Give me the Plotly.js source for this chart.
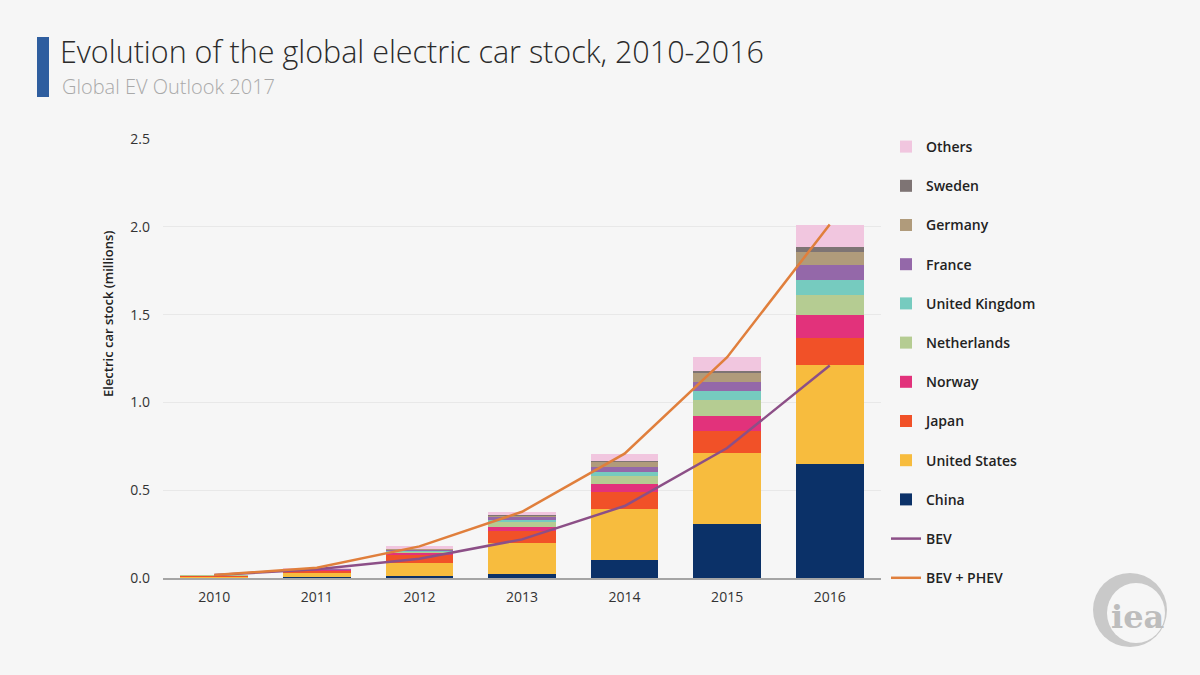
<!DOCTYPE html>
<html><head><meta charset="utf-8">
<script src="https://cdn.plot.ly/plotly-3.0.1.min.js"></script>
<style>html,body{margin:0;padding:0;background:#f6f6f6}</style>
</head><body><div id="chart" style="width:1200px;height:675px"></div>
<script>
const years = ['2010','2011','2012','2013','2014','2015','2016'];
const china = [0.001,0.005,0.011,0.025,0.102,0.309,0.649];
const unitedStates = [0.004,0.022,0.076,0.173,0.290,0.404,0.564];
const japan = [0.006,0.013,0.044,0.070,0.100,0.126,0.151];
const norway = [0.003,0.005,0.010,0.024,0.044,0.084,0.133];
const netherlands = [0.0003,0.002,0.006,0.029,0.046,0.092,0.114];
const unitedKingdom = [0.0003,0.001,0.004,0.011,0.022,0.049,0.087];
const france = [0.0003,0.003,0.009,0.014,0.030,0.051,0.084];
const germany = [0.0005,0.002,0.006,0.009,0.024,0.053,0.072];
const sweden = [0.0001,0.0002,0.002,0.006,0.008,0.013,0.029];
const others = [0.002,0.005,0.012,0.015,0.042,0.078,0.130];
const bev = [0.017,0.050,0.110,0.220,0.410,0.740,1.210];
const bevPhev = [0.017,0.059,0.180,0.377,0.708,1.257,2.013];
const yTicks = [0,0.5,1.0,1.5,2.0,2.5];

const FONT = 'Open Sans, Lato, sans-serif';
const L = 163, R = 881, T = 139, B = 578;
const px = x => (x - L) / (R - L);
const py = y => (B - y) / (B - T);

const barSeries = [
  ['China', china, '#0b3168'],
  ['United States', unitedStates, '#f7bc3e'],
  ['Japan', japan, '#f15128'],
  ['Norway', norway, '#e2327b'],
  ['Netherlands', netherlands, '#b5cc92'],
  ['United Kingdom', unitedKingdom, '#76cbbf'],
  ['France', france, '#9468a9'],
  ['Germany', germany, '#b09b7b'],
  ['Sweden', sweden, '#7e7474'],
  ['Others', others, '#f1c6df']
];

const data = [];
barSeries.forEach((s, i) => {
  data.push({type:'bar', name:s[0], x:years, y:s[1],
    marker:{color:s[2], line:{width:0}}, legendgroup:'g'+i, legendrank:100 - i, hoverinfo:'skip'});
});
data.push({type:'scatter', mode:'lines', name:'BEV', x:years, y:bev,
  line:{color:'#8c4f87', width:2.5}, legendgroup:'g11', legendrank:200, hoverinfo:'skip'});
data.push({type:'scatter', mode:'lines', name:'BEV + PHEV', x:years, y:bevPhev,
  line:{color:'#e07f3c', width:2.5}, legendgroup:'g12', legendrank:201, hoverinfo:'skip'});

const shapes = [
  {type:'rect', xref:'paper', yref:'paper', x0:px(37), x1:px(49), y0:py(97), y1:py(37),
   fillcolor:'#2f5e9f', line:{width:0}},
  {type:'circle', xref:'paper', yref:'paper', x0:px(1093), x1:px(1167), y0:py(647), y1:py(573),
   fillcolor:'#c9c9c9', line:{width:0}},
  {type:'circle', xref:'paper', yref:'paper', x0:px(1107), x1:px(1165), y0:py(643), y1:py(583),
   fillcolor:'#f6f6f6', line:{width:0}}
];

const annotations = [
  {text:'Global EV Outlook 2017', xref:'paper', yref:'paper', x:px(60), y:py(86),
   xanchor:'left', yanchor:'middle', showarrow:false,
   font:{family:FONT, size:20, color:'#a9a9a9', weight:300}},
  {text:'Electric car stock (millions)', xref:'paper', yref:'paper', x:px(108), y:py(314),
   xanchor:'center', yanchor:'middle', textangle:-90, showarrow:false,
   font:{family:FONT, size:13, color:'#222', weight:600}},
  {text:'iea', xref:'paper', yref:'paper', x:px(1137), y:py(617),
   xanchor:'center', yanchor:'middle', showarrow:false,
   font:{family:'DejaVu Serif, serif', size:32, color:'#bdbdbd', weight:700}}
];

const layout = {
  width:1200, height:675,
  paper_bgcolor:'#f6f6f6', plot_bgcolor:'#f6f6f6',
  margin:{l:L, r:1200-R, t:T, b:675-B, pad:0},
  title:{text:'Evolution of the global electric car stock, 2010-2016', xref:'container', yref:'container',
    x:60/1200, xanchor:'left', y:1-52/675, yanchor:'middle',
    font:{family:FONT, size:30.5, color:'#2b2b2b', weight:300}},
  barmode:'stack', bargap:0.34,
  xaxis:{type:'category', showline:true, linecolor:'#a5a5a5', linewidth:2, ticks:'',
    showgrid:false, ticklabelstandoff:5, tickfont:{family:FONT, size:14, color:'#333'}, fixedrange:true},
  yaxis:{range:[0,2.5], tickvals:yTicks, tickformat:'.1f', showgrid:true, gridcolor:'#e8e8e8',
    gridwidth:1, zeroline:false, ticks:'', ticklabelstandoff:12,
    tickfont:{family:FONT, size:14, color:'#333'}, fixedrange:true},
  legend:{traceorder:'grouped', tracegroupgap:18, x:px(886), xanchor:'left',
    y:py(131), yanchor:'top', itemwidth:30, maxheight:640, bgcolor:'rgba(0,0,0,0)',
    font:{family:FONT, size:14, color:'#222', weight:600}},
  shapes:shapes, annotations:annotations, hovermode:false
};

Plotly.newPlot('chart', data, layout, {displayModeBar:false, staticPlot:true});
</script></body></html>
